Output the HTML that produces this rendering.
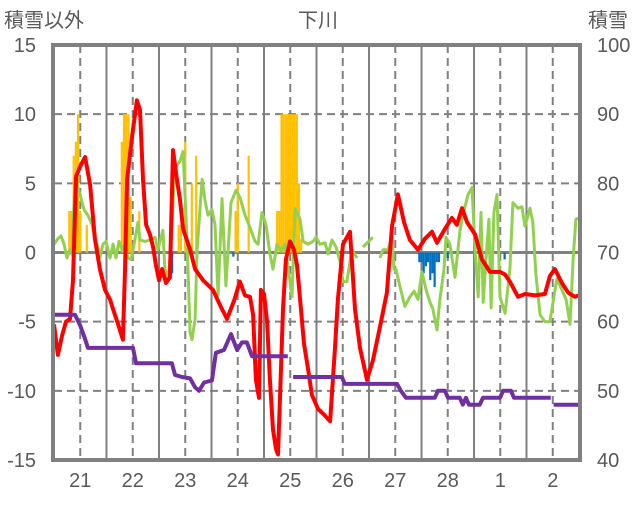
<!DOCTYPE html>
<html><head><meta charset="utf-8">
<style>
body{margin:0;background:#fff;}
svg text{font-family:"Liberation Sans","Noto Sans CJK JP",sans-serif;fill:#595959;}
</style></head>
<body>
<svg id="chart" width="636" height="501" viewBox="0 0 636 501" xmlns="http://www.w3.org/2000/svg">
<rect width="636" height="501" fill="#fff"/>
<text x="318" y="27" font-size="20" text-anchor="middle">下川</text>
<text x="4" y="27" font-size="20">積雪以外</text>
<text x="588" y="27" font-size="20">積雪</text>
<g id="grid"></g><g id="bars"></g><g id="lines"></g><g id="axes"></g>
</svg>
<script>
const days=["21","22","23","24","25","26","27","28","1","2"];
const leftTicks=[15,10,5,0,-5,-10,-15];
const rightTicks=[100,90,80,70,60,50,40];
const redH=[0,1.8,3.7,5.5,7.3,8.7,10.1,11.9,14.2,16.5,18.7,21,23.3,25.6,27,29.3,31.5,32.5,33.4,35.7,37.9,39.3,40.7,42.1,43.9,45.3,46.6,48,49.4,51.2,53,54.4,56.2,57.6,59,62.2,64.5,68.1,72.7,75.9,79.1,82.3,85,87.3,89.6,91,92.3,93.7,94.6,96,97.4,98.7,100.1,101.5,102.4,103.3,104.7,106,107.9,109.7,111.1,112.5,114.3,116.1,117.9,120.7,123.9,126.2,128.4,129.8,132.1,135.3,137.6,139.9,143.1,145.8,149,152.2,154.5,157.2,160,162.7,166.4,169.6,172.8,175.1,178.7,181.9,184.2,186.5,188.8,192.5,195.6,199.3,203.9,206.2,208.4,212.1,215.3,219.9,224.4,226.7,229,232.2,235,238.1,240];
const redV=[-5.2,-7.4,-6,-5,-4.8,-2,5.5,6.2,6.9,4.9,1,-1.2,-2.7,-3.4,-4.1,-5.2,-6.3,-1,5.3,8.4,11,10.3,5.3,2,1.3,0.4,-0.9,-2,-1.2,-2.2,-1.8,7.4,5.3,3.8,1.7,0.2,-1.2,-2,-2.7,-3.8,-4.8,-3.5,-2.1,-3.1,-3.2,-4.5,-9.2,-10.5,-2.7,-3,-5,-9.2,-12.8,-14.2,-14.6,-10.5,-4.1,-0.5,0.8,0.2,-0.9,-3.4,-6.6,-8.4,-10.3,-11.3,-11.8,-12.2,-7,-3.4,0.6,1.5,-4.1,-6.9,-9.2,-7.8,-5.4,-2.9,1.9,4.2,2.2,0.9,0.2,1,1.5,0.7,1.7,2.5,2,3.2,2.2,1.3,-0.5,-1.4,-1.4,-1.6,-2.1,-3.2,-3,-3.1,-3,-1.7,-1.2,-2.2,-2.9,-3.2,-3.1];
const greenH=[0,1.8,3.2,4.6,5.9,7.3,8.2,9.6,11.9,13.7,15.5,17.4,18.7,20.1,21,22.4,23.8,24.7,25.6,27,28.3,29.7,31.1,32.5,33.8,35.2,36.6,38.4,39.3,41.6,43.9,46.2,47.5,49.8,50.7,52.1,53,55.3,57.6,59,60.8,62.2,63.1,64.5,65.4,67.7,69,70.4,72.2,73.6,75,76.8,78.6,80.9,83.2,85,87.3,89.6,91.9,93.3,95.1,96.9,98.7,100.1,101.9,103.8,105.6,107.4,108.8,110.2,112.5,113.9,116.1,118.4,119.8,121.6,123.9,125.3,127.1,128.9,130.7,132.1,133.9,136.2,138.5,139.5,141.2,145.8,147,149,150.4,152.7,154.5,155.4,156.3,158.2,160.4,162.7,164.6,166.4,168.2,170.1,171.9,173.2,175.1,176.4,178.3,179.2,181,183.3,185.6,187.4,189.3,191.1,192.5,193.9,195.2,196.2,197.5,198.8,199.8,201.1,202.5,203.9,206.2,208.4,209.8,212.1,213.9,215.3,217.6,218.9,220.3,222.2,224.4,226.7,228.1,229.9,232.2,234.1,235.9,237.3,238.6,240];
const greenV=[0.6,1,1.2,0.6,-0.4,0.2,-0.1,5.3,4.2,3.1,2.7,2,0.9,0.4,-0.4,0.6,0.8,0.2,-0.4,0.6,-0.4,0.8,0.2,0.6,-0.4,-0.5,0.6,2.2,0.9,0.8,0.9,1.1,0.2,1.6,-1.2,-1.9,-0.5,6.1,6.6,7.3,0.9,-5.8,-6.3,-4.8,0.2,5.3,3.8,2.7,3.1,2,-3.1,3.9,-2.4,3.6,4.5,4,2.7,1.8,0.8,0.6,2.9,2,-0.1,-1.2,0.6,0.1,0.6,-1.5,-3.2,3.2,2.4,0.8,0.6,0.8,1.1,0.6,0.7,-0.1,0.9,0.4,-0.6,-2.1,-2.1,0.2,-0.4,null,0.4,1.1,null,-0.4,0.2,0.2,1.1,-1.2,-1.2,-2.5,-3.9,-3.2,-2.8,-3.4,-1.4,-2.7,-3.6,-4.1,-5.6,-3.4,-1.2,1.1,0.6,-1.8,1.6,3,4.2,4.7,0.2,-3.2,2.9,-3.6,-0.5,2.4,-4,2.9,4.2,-3.2,-4.4,-1.2,3.6,3.2,3.3,1.9,3.2,2.2,-1.6,-4.5,-5,-5,-3.6,-1.9,-2.7,-3.4,-5.2,-0.5,2.4,2.5];
const snowH=[0,9.6,11.9,14.2,15.5,36.1,37.5,53.9,55.3,58.5,62.2,64.5,66.3,68.6,72.2,74,77.7,80.9,83.7,85.9,88.2,90.5,106.9,107.5,109.3,131.6,132.9,156.8,158.6,160.9,174.1,175.5,178.7,180.1,185.5,186.9,188.3,189.7,194.6,196.1,203.9,205.3,208.9,210.3,227.1,227.7,228.4,240];
const snowV=[61,61,59.5,57.5,56.2,56.2,54,54,52.3,52,51.8,50.5,50,51.2,51.5,55.5,55.9,58.2,55.9,57,57,55,55,null,52,52,51,51,50,49,49,50,50,49,49,48,49,48,48,49,49,50,50,49,49,null,48,48];
const posBarH=[7,8,9,10,11,12,15,31,32,33,34,35,39,57,58,60,63,65,83,84,89,102,103,104,105,106,107,108,109,110,111,112,113];
const posBarV=[3,3,7,8,10,3,2,8,10,10,10,4,3,2,2,8,5,7,3,5,7,3,3,10,10,10,10,10,10,10,10,5,1];
const negBarH=[54,74,82,167,168,169,170,171,172,173,174,175,176,180,206];
const negBarV=[-1.5,-0.3,-0.3,-0.7,-0.7,-1.5,-1,-0.7,-2,-1.5,-2.5,-0.7,-0.7,-0.4,-0.5];

const L=54,R=579,T=45,B=460,HOURS=240;
const xS=h=>L+(h/HOURS)*(R-L);
const yL=v=>T+(15-v)/30*(B-T);
const yR=v=>T+(100-v)/60*(B-T);
const NS="http://www.w3.org/2000/svg";
function mk(tag,parent){const e=document.createElementNS(NS,tag);parent.appendChild(e);return e;}
const grid=document.getElementById('grid'),bars=document.getElementById('bars'),lines=document.getElementById('lines'),axes=document.getElementById('axes');

leftTicks.forEach((t,i)=>{
  const y=yL(t);
  if(t!==15&&t!==-15){
    const g=mk('line',grid);
    
    
    g.setAttribute('x1',L);g.setAttribute('x2',R);g.setAttribute('y1',y);g.setAttribute('y2',y);
    g.setAttribute('stroke','#808080');g.setAttribute('stroke-width',t===0?3:2);
    if(t!==0)g.setAttribute('stroke-dasharray','8,5');
  }
  const tx=mk('text',axes);
  
  
  tx.setAttribute('x',36);tx.setAttribute('y',y+7);tx.setAttribute('font-size','20');tx.setAttribute('text-anchor','end');
  tx.textContent=t;
});
rightTicks.forEach(t=>{
  const tx=mk('text',axes);
  
  
  tx.setAttribute('x',597);tx.setAttribute('y',yR(t)+7);tx.setAttribute('font-size','20');
  tx.textContent=t;
});
days.forEach((d,i)=>{
  const xs=xS(i*24), xm=xS(i*24+12);
  if(i>0){
    const g=mk('line',grid);
    
    
    g.setAttribute('x1',xs);g.setAttribute('x2',xs);g.setAttribute('y1',T);g.setAttribute('y2',B);
    g.setAttribute('stroke','#808080');g.setAttribute('stroke-width',2);
  }
  const g2=mk('line',grid);
  
  
  g2.setAttribute('x1',xm);g2.setAttribute('x2',xm);g2.setAttribute('y1',T);g2.setAttribute('y2',B);
  g2.setAttribute('stroke','#808080');g2.setAttribute('stroke-width',2);g2.setAttribute('stroke-dasharray','8,5');
  const tx=mk('text',axes);
  
  
  tx.setAttribute('x',xm);tx.setAttribute('y',487);tx.setAttribute('font-size','20');tx.setAttribute('text-anchor','middle');
  tx.textContent=d;
});
const bw=(R-L)/HOURS;
posBarH.forEach((h,i)=>{
  const r=mk('rect',bars);
  
  
  const y=yL(posBarV[i]);
  r.setAttribute('x',xS(h)-bw/2);r.setAttribute('width',bw);r.setAttribute('y',y);r.setAttribute('height',yL(0)-y);r.setAttribute('fill','#FFC000');
});
negBarH.forEach((h,i)=>{
  const r=mk('rect',bars);
  
  
  r.setAttribute('x',xS(h)-bw/2);r.setAttribute('width',bw);r.setAttribute('y',yL(0));r.setAttribute('height',yL(negBarV[i])-yL(0));r.setAttribute('fill','#0070C0');
});
function path(H,V,ys){let d='',pen=false;H.forEach((h,i)=>{const v=V[i];if(v===null){pen=false;return;}d+=(pen?'L':'M')+xS(h).toFixed(1)+','+ys(v).toFixed(1);pen=true;});return d;}
const pg=mk('path',lines);


pg.setAttribute('d',path(greenH,greenV,yL));pg.setAttribute('fill','none');pg.setAttribute('stroke','#92D050');pg.setAttribute('stroke-width',3);pg.setAttribute('stroke-linejoin','round');
const pr=mk('path',lines);


pr.setAttribute('d',path(redH,redV,yL));pr.setAttribute('fill','none');pr.setAttribute('stroke','#FF0000');pr.setAttribute('stroke-width',4);pr.setAttribute('stroke-linejoin','round');
const pp=mk('path',lines);


pp.setAttribute('d',path(snowH,snowV,yR));pp.setAttribute('fill','none');pp.setAttribute('stroke','#7030A0');pp.setAttribute('stroke-width',4);pp.setAttribute('stroke-linejoin','round');
const fr=mk('rect',axes);


fr.setAttribute('x',L-1);fr.setAttribute('y',T);fr.setAttribute('width',R-L+2);fr.setAttribute('height',B-T);fr.setAttribute('fill','none');fr.setAttribute('stroke','#808080');fr.setAttribute('stroke-width',4);
</script>
</body></html>
